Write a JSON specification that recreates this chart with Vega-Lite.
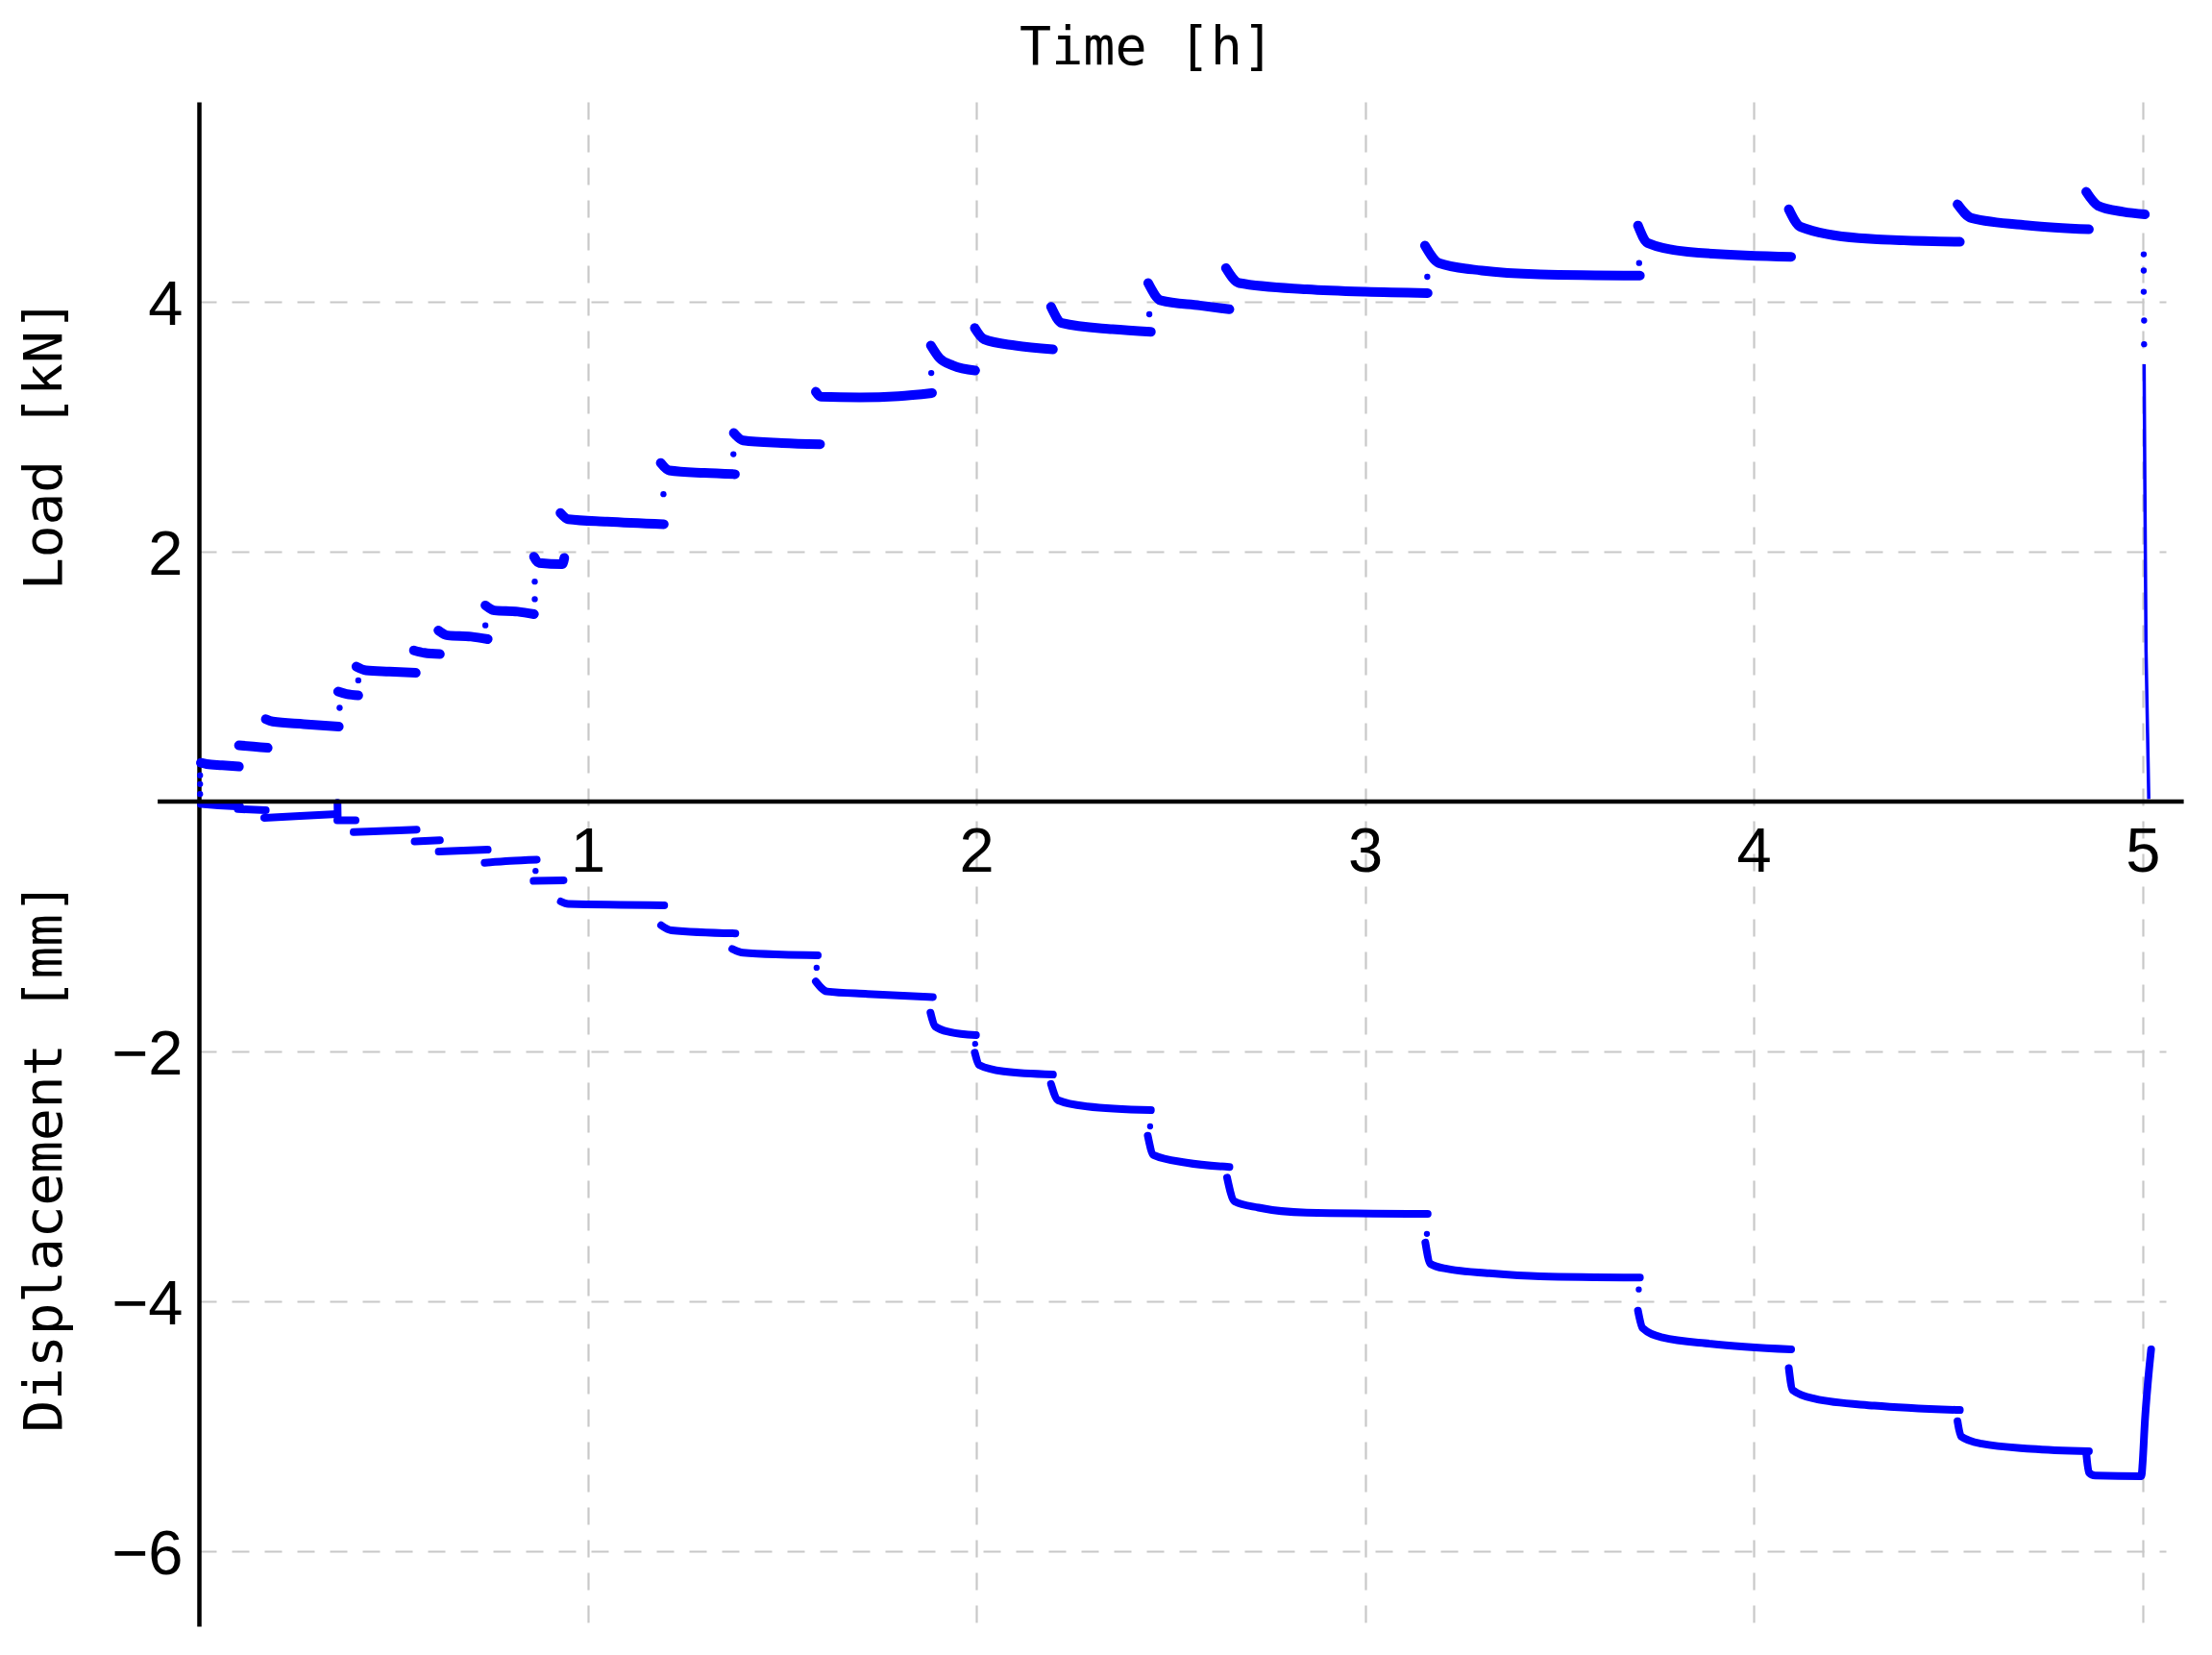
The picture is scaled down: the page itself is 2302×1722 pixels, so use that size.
{
  "$schema": "https://vega.github.io/schema/vega-lite/v6.json",
  "width": 2047,
  "height": 1586,
  "autosize": {"type": "none"},
  "padding": {"left": 207, "top": 106, "right": 48, "bottom": 30},
  "background": "white",
  "title": {"text": "Time [h]", "font": "DejaVu Sans Mono", "fontSize": 55, "fontWeight": "normal", "color": "black", "anchor": "middle", "frame": "group", "dx": -37, "offset": 27},
  "config": {"view": {"stroke": null}},
  "data": {"values": [
    {"s":"A","g":"axis","t":-0.106,"v":0},{"s":"A","g":"axis","t":5.106,"v":0},
    {"s":"L","g":"dot","t":0.003,"v":0.06},{"s":"L","g":"dot","t":0.003,"v":0.14},{"s":"L","g":"dot","t":0.003,"v":0.21},
    {"s":"L","g":"L1","t":0.005,"v":0.31},{"s":"L","g":"L1","t":0.02,"v":0.30},{"s":"L","g":"L1","t":0.06,"v":0.29},{"s":"L","g":"L1","t":0.103,"v":0.28},
    {"s":"L","g":"L2","t":0.103,"v":0.45},{"s":"L","g":"L2","t":0.14,"v":0.44},{"s":"L","g":"L2","t":0.177,"v":0.43},
    {"s":"L","g":"L3","t":0.172,"v":0.66},{"s":"L","g":"L3","t":0.19,"v":0.64},{"s":"L","g":"L3","t":0.27,"v":0.62},{"s":"L","g":"L3","t":0.36,"v":0.60},
    {"s":"L","g":"dot","t":0.362,"v":0.75},
    {"s":"L","g":"L4","t":0.358,"v":0.88},{"s":"L","g":"L4","t":0.38,"v":0.86},{"s":"L","g":"L4","t":0.41,"v":0.85},
    {"s":"L","g":"dot","t":0.41,"v":0.97},
    {"s":"L","g":"L5","t":0.405,"v":1.08},{"s":"L","g":"L5","t":0.43,"v":1.05},{"s":"L","g":"L5","t":0.49,"v":1.04},{"s":"L","g":"L5","t":0.558,"v":1.03},
    {"s":"L","g":"L6","t":0.553,"v":1.21},{"s":"L","g":"L6","t":0.58,"v":1.19},{"s":"L","g":"L6","t":0.62,"v":1.18},
    {"s":"L","g":"dot","t":0.737,"v":1.41},
    {"s":"L","g":"L7","t":0.616,"v":1.37},{"s":"L","g":"L7","t":0.64,"v":1.33},{"s":"L","g":"L7","t":0.70,"v":1.32},{"s":"L","g":"L7","t":0.743,"v":1.30},
    {"s":"L","g":"dot","t":0.864,"v":1.62},
    {"s":"L","g":"L8","t":0.737,"v":1.57},{"s":"L","g":"L8","t":0.76,"v":1.53},{"s":"L","g":"L8","t":0.82,"v":1.52},{"s":"L","g":"L8","t":0.862,"v":1.50},
    {"s":"L","g":"dot","t":0.864,"v":1.76},
    {"s":"L","g":"L9","t":0.862,"v":1.96},{"s":"L","g":"L9","t":0.875,"v":1.91},{"s":"L","g":"L9","t":0.935,"v":1.90},{"s":"L","g":"L9","t":0.94,"v":1.95},
    {"s":"L","g":"L10","t":0.93,"v":2.31},{"s":"L","g":"L10","t":0.95,"v":2.26},{"s":"L","g":"L10","t":1.05,"v":2.24},{"s":"L","g":"L10","t":1.196,"v":2.22},
    {"s":"L","g":"dot","t":1.195,"v":2.46},
    {"s":"L","g":"L11","t":1.188,"v":2.71},{"s":"L","g":"L11","t":1.21,"v":2.65},{"s":"L","g":"L11","t":1.30,"v":2.63},{"s":"L","g":"L11","t":1.379,"v":2.62},
    {"s":"L","g":"dot","t":1.375,"v":2.78},
    {"s":"L","g":"L12","t":1.376,"v":2.95},{"s":"L","g":"L12","t":1.40,"v":2.89},{"s":"L","g":"L12","t":1.50,"v":2.87},{"s":"L","g":"L12","t":1.598,"v":2.86},
    {"s":"L","g":"L13","t":1.587,"v":3.28},{"s":"L","g":"L13","t":1.60,"v":3.24},{"s":"L","g":"L13","t":1.70,"v":3.235},{"s":"L","g":"L13","t":1.80,"v":3.245},{"s":"L","g":"L13","t":1.886,"v":3.27},
    {"s":"L","g":"dot","t":1.884,"v":3.43},
    {"s":"L","g":"L14","t":1.883,"v":3.65},{"s":"L","g":"L14","t":1.905,"v":3.55},{"s":"L","g":"L14","t":1.94,"v":3.49},{"s":"L","g":"L14","t":1.997,"v":3.45},
    {"s":"L","g":"L15","t":1.996,"v":3.79},{"s":"L","g":"L15","t":2.02,"v":3.70},{"s":"L","g":"L15","t":2.10,"v":3.65},{"s":"L","g":"L15","t":2.197,"v":3.62},
    {"s":"L","g":"L16","t":2.192,"v":3.96},{"s":"L","g":"L16","t":2.22,"v":3.83},{"s":"L","g":"L16","t":2.35,"v":3.78},{"s":"L","g":"L16","t":2.449,"v":3.76},
    {"s":"L","g":"dot","t":2.445,"v":3.90},
    {"s":"L","g":"L17","t":2.442,"v":4.15},{"s":"L","g":"L17","t":2.475,"v":4.01},{"s":"L","g":"L17","t":2.575,"v":3.97},{"s":"L","g":"L17","t":2.651,"v":3.94},
    {"s":"L","g":"L18","t":2.642,"v":4.27},{"s":"L","g":"L18","t":2.676,"v":4.15},{"s":"L","g":"L18","t":2.85,"v":4.10},{"s":"L","g":"L18","t":3.0,"v":4.08},{"s":"L","g":"L18","t":3.161,"v":4.07},
    {"s":"L","g":"dot","t":3.16,"v":4.20},
    {"s":"L","g":"L19","t":3.154,"v":4.45},{"s":"L","g":"L19","t":3.19,"v":4.31},{"s":"L","g":"L19","t":3.30,"v":4.25},{"s":"L","g":"L19","t":3.45,"v":4.22},{"s":"L","g":"L19","t":3.707,"v":4.21},
    {"s":"L","g":"dot","t":3.705,"v":4.31},
    {"s":"L","g":"L20","t":3.702,"v":4.61},{"s":"L","g":"L20","t":3.727,"v":4.47},{"s":"L","g":"L20","t":3.83,"v":4.40},{"s":"L","g":"L20","t":4.096,"v":4.36},
    {"s":"L","g":"L21","t":4.09,"v":4.74},{"s":"L","g":"L21","t":4.12,"v":4.60},{"s":"L","g":"L21","t":4.27,"v":4.51},{"s":"L","g":"L21","t":4.53,"v":4.48},
    {"s":"L","g":"L22","t":4.524,"v":4.78},{"s":"L","g":"L22","t":4.56,"v":4.67},{"s":"L","g":"L22","t":4.71,"v":4.61},{"s":"L","g":"L22","t":4.862,"v":4.58},
    {"s":"L","g":"L23","t":4.855,"v":4.88},{"s":"L","g":"L23","t":4.885,"v":4.77},{"s":"L","g":"L23","t":4.95,"v":4.72},{"s":"L","g":"L23","t":5.006,"v":4.70},
    {"s":"L","g":"dot","t":5.003,"v":4.38},{"s":"L","g":"dot","t":5.003,"v":4.25},{"s":"L","g":"dot","t":5.003,"v":4.08},{"s":"L","g":"dot","t":5.004,"v":3.85},{"s":"L","g":"dot","t":5.004,"v":3.66},
    {"s":"L","g":"drop","t":5.004,"v":3.50},{"s":"L","g":"drop","t":5.006,"v":2.5},{"s":"L","g":"drop","t":5.009,"v":1.2},{"s":"L","g":"drop","t":5.016,"v":0.02},
    {"s":"D","g":"D1","t":0.005,"v":-0.02},{"s":"D","g":"D1","t":0.05,"v":-0.03},{"s":"D","g":"D1","t":0.106,"v":-0.04},
    {"s":"D","g":"D2","t":0.10,"v":-0.06},{"s":"D","g":"D2","t":0.172,"v":-0.07},
    {"s":"D","g":"D3","t":0.168,"v":-0.13},{"s":"D","g":"D3","t":0.26,"v":-0.115},{"s":"D","g":"D3","t":0.356,"v":-0.10},
    {"s":"D","g":"D3b","t":0.3565,"v":-0.01},{"s":"D","g":"D3b","t":0.357,"v":-0.12},
    {"s":"D","g":"D4","t":0.356,"v":-0.15},{"s":"D","g":"D4","t":0.403,"v":-0.15},
    {"s":"D","g":"D5","t":0.398,"v":-0.245},{"s":"D","g":"D5","t":0.48,"v":-0.235},{"s":"D","g":"D5","t":0.56,"v":-0.225},
    {"s":"D","g":"D6","t":0.555,"v":-0.32},{"s":"D","g":"D6","t":0.62,"v":-0.31},
    {"s":"D","g":"D7","t":0.617,"v":-0.40},{"s":"D","g":"D7","t":0.743,"v":-0.385},
    {"s":"D","g":"D8","t":0.735,"v":-0.49},{"s":"D","g":"D8","t":0.80,"v":-0.475},{"s":"D","g":"D8","t":0.869,"v":-0.465},
    {"s":"D","g":"dot","t":0.866,"v":-0.555},
    {"s":"D","g":"D9","t":0.861,"v":-0.635},{"s":"D","g":"D9","t":0.938,"v":-0.63},
    {"s":"D","g":"D10","t":0.931,"v":-0.80},{"s":"D","g":"D10","t":0.95,"v":-0.82},{"s":"D","g":"D10","t":1.197,"v":-0.83},
    {"s":"D","g":"D11","t":1.189,"v":-0.99},{"s":"D","g":"D11","t":1.215,"v":-1.03},{"s":"D","g":"D11","t":1.38,"v":-1.055},
    {"s":"D","g":"D12","t":1.372,"v":-1.18},{"s":"D","g":"D12","t":1.40,"v":-1.21},{"s":"D","g":"D12","t":1.50,"v":-1.225},{"s":"D","g":"D12","t":1.592,"v":-1.23},
    {"s":"D","g":"dot","t":1.589,"v":-1.33},
    {"s":"D","g":"D13","t":1.587,"v":-1.44},{"s":"D","g":"D13","t":1.616,"v":-1.52},{"s":"D","g":"D13","t":1.72,"v":-1.54},{"s":"D","g":"D13","t":1.888,"v":-1.565},
    {"s":"D","g":"D14","t":1.882,"v":-1.69},{"s":"D","g":"D14","t":1.894,"v":-1.80},{"s":"D","g":"D14","t":1.932,"v":-1.845},{"s":"D","g":"D14","t":1.999,"v":-1.87},
    {"s":"D","g":"dot","t":1.997,"v":-1.94},
    {"s":"D","g":"D15","t":1.996,"v":-2.01},{"s":"D","g":"D15","t":2.008,"v":-2.11},{"s":"D","g":"D15","t":2.07,"v":-2.16},{"s":"D","g":"D15","t":2.197,"v":-2.185},
    {"s":"D","g":"D16","t":2.192,"v":-2.26},{"s":"D","g":"D16","t":2.21,"v":-2.39},{"s":"D","g":"D16","t":2.285,"v":-2.44},{"s":"D","g":"D16","t":2.449,"v":-2.47},
    {"s":"D","g":"dot","t":2.447,"v":-2.60},
    {"s":"D","g":"D17","t":2.441,"v":-2.675},{"s":"D","g":"D17","t":2.456,"v":-2.83},{"s":"D","g":"D17","t":2.54,"v":-2.89},{"s":"D","g":"D17","t":2.651,"v":-2.925},
    {"s":"D","g":"D18","t":2.645,"v":-3.01},{"s":"D","g":"D18","t":2.664,"v":-3.20},{"s":"D","g":"D18","t":2.726,"v":-3.25},{"s":"D","g":"D18","t":2.85,"v":-3.29},{"s":"D","g":"D18","t":3.161,"v":-3.30},
    {"s":"D","g":"dot","t":3.159,"v":-3.46},
    {"s":"D","g":"D19","t":3.155,"v":-3.53},{"s":"D","g":"D19","t":3.168,"v":-3.70},{"s":"D","g":"D19","t":3.21,"v":-3.74},{"s":"D","g":"D19","t":3.32,"v":-3.775},{"s":"D","g":"D19","t":3.45,"v":-3.80},{"s":"D","g":"D19","t":3.707,"v":-3.81},
    {"s":"D","g":"dot","t":3.704,"v":-3.905},
    {"s":"D","g":"D20","t":3.702,"v":-4.075},{"s":"D","g":"D20","t":3.714,"v":-4.215},{"s":"D","g":"D20","t":3.765,"v":-4.29},{"s":"D","g":"D20","t":3.89,"v":-4.34},{"s":"D","g":"D20","t":4.096,"v":-4.385},
    {"s":"D","g":"D21","t":4.09,"v":-4.535},{"s":"D","g":"D21","t":4.10,"v":-4.71},{"s":"D","g":"D21","t":4.157,"v":-4.78},{"s":"D","g":"D21","t":4.31,"v":-4.835},{"s":"D","g":"D21","t":4.53,"v":-4.87},
    {"s":"D","g":"D22","t":4.524,"v":-4.96},{"s":"D","g":"D22","t":4.533,"v":-5.08},{"s":"D","g":"D22","t":4.586,"v":-5.14},{"s":"D","g":"D22","t":4.713,"v":-5.18},{"s":"D","g":"D22","t":4.862,"v":-5.20},
    {"s":"D","g":"D23","t":4.855,"v":-5.21},{"s":"D","g":"D23","t":4.862,"v":-5.37},{"s":"D","g":"D23","t":4.878,"v":-5.395},{"s":"D","g":"D23","t":4.997,"v":-5.40},{"s":"D","g":"D23","t":5.0,"v":-5.30},{"s":"D","g":"D23","t":5.006,"v":-4.96},{"s":"D","g":"D23","t":5.014,"v":-4.64},{"s":"D","g":"D23","t":5.022,"v":-4.385}
  ]},
  "encoding": {
    "x": {"field": "t", "type": "quantitative", "scale": {"domain": [0, 5.06], "nice": false, "zero": false},
      "axis": {"values": [1, 2, 3, 4, 5], "orient": "bottom", "offset": -858, "domain": false, "ticks": false, "tickSize": 0,
        "labelFont": "Liberation Sans", "labelFontSize": 65, "labelColor": "black", "labelPadding": 21, "labelFlush": false, "labelOverlap": false,
        "grid": true, "gridColor": "#c8c8c8", "gridDash": [18, 16], "gridWidth": 2.2, "title": null}},
    "y": {"field": "v", "type": "quantitative", "scale": {"domain": [-6.6, 5.6], "nice": false, "zero": false},
      "axis": {"values": [-6, -4, -2, 2, 4], "domain": true, "domainColor": "black", "domainWidth": 4.5, "ticks": false, "tickSize": 0,
        "labelFont": "Liberation Sans", "labelFontSize": 65, "labelColor": "black", "labelPadding": 17, "labelOffset": 3, "labelFlush": false, "labelOverlap": false,
        "grid": true, "gridColor": "#c8c8c8", "gridDash": [18, 16], "gridWidth": 2.2,
        "title": "Displacement [mm]\u00a0\u00a0\u00a0\u00a0\u00a0\u00a0\u00a0\u00a0\u00a0Load [kN]",
        "titleFont": "DejaVu Sans Mono", "titleFontSize": 56, "titleFontWeight": "normal", "titleColor": "black",
        "titleAngle": -90, "titleX": -144, "titleY": 794, "titleAlign": "center", "titleBaseline": "alphabetic"}}
  },
  "layer": [
    {
      "transform": [{"filter": "datum.s == 'L' && datum.g != 'dot' && datum.g != 'drop'"}],
      "mark": {"type": "line", "color": "#0000ff", "strokeWidth": 10, "strokeCap": "round", "strokeJoin": "round", "interpolate": "monotone"},
      "encoding": {"detail": {"field": "g"}}
    },
    {
      "transform": [{"filter": "datum.s == 'D' && datum.g != 'dot'"}],
      "mark": {"type": "line", "color": "#0000ff", "strokeWidth": 8, "strokeCap": "round", "strokeJoin": "round", "interpolate": "monotone"},
      "encoding": {"detail": {"field": "g"}}
    },
    {
      "transform": [{"filter": "datum.g == 'drop'"}],
      "mark": {"type": "line", "color": "#0000ff", "strokeWidth": 3.5}
    },
    {
      "transform": [{"filter": "datum.g == 'dot'"}],
      "mark": {"type": "circle", "color": "#0000ff", "size": 40, "opacity": 1}
    },
    {
      "transform": [{"filter": "datum.g == 'axis'"}],
      "mark": {"type": "line", "color": "black", "strokeWidth": 4.5, "clip": false}
    }
  ]
}
